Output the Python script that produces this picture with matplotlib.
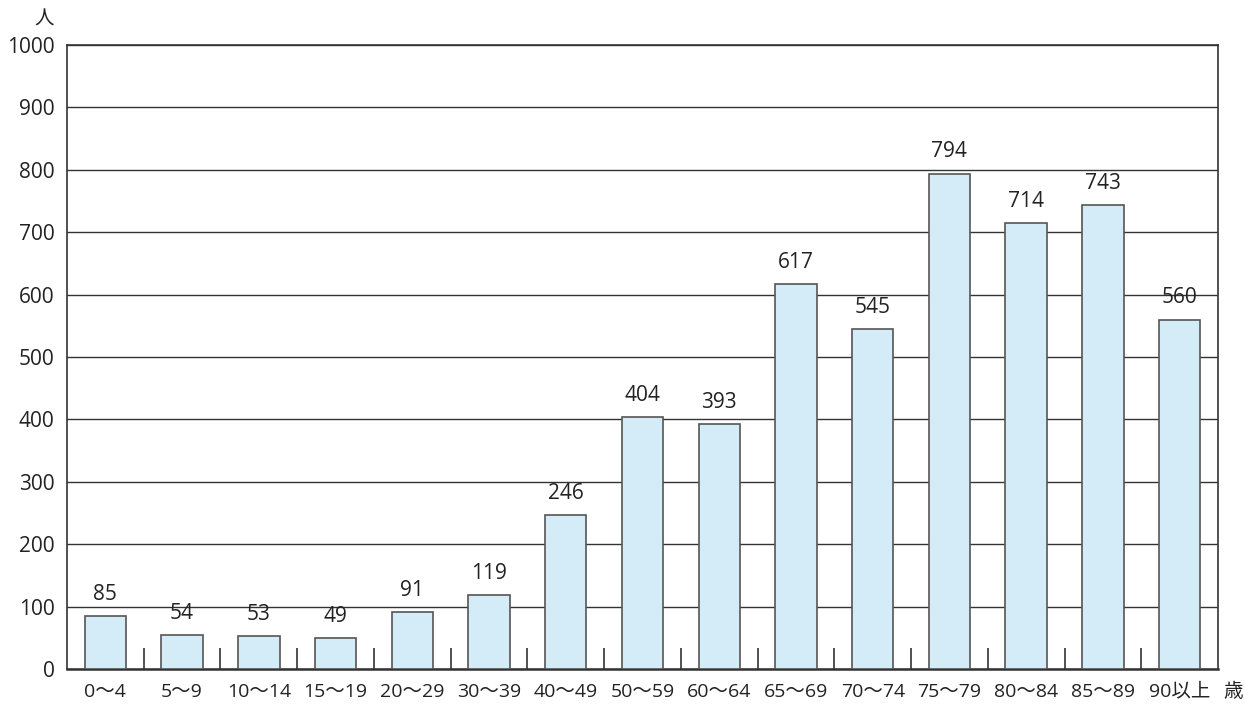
import matplotlib
matplotlib.use("Agg")
import matplotlib.pyplot as plt
import numpy as np

plt.rcParams['font.family'] = ['Open Sans', 'Noto Sans CJK JP', 'DejaVu Sans']

categories = ["0～4", "5～9", "10～14", "15～19", "20～29", "30～39", "40～49",
              "50～59", "60～64", "65～69", "70～74", "75～79", "80～84", "85～89", "90以上"]
values = [85, 54, 53, 49, 91, 119, 246, 404, 393, 617, 545, 794, 714, 743, 560]
yticks = [0, 100, 200, 300, 400, 500, 600, 700, 800, 900, 1000]

fig = plt.figure(figsize=(12.45, 7.04), dpi=100)
ax = fig.add_axes([67/1245, 1 - 669/704, (1218-67)/1245, (669-45)/704])

x = np.arange(len(categories))
ax.set_axisbelow(True)
ax.yaxis.grid(True, color='#333333', linewidth=1.0)
ax.bar(x, values, width=0.54, color='#d4ebf8', edgecolor='#555555', linewidth=1.2, zorder=3)

for xi, v in zip(x, values):
    ax.annotate(str(v), (xi, v), xytext=(0, 8), textcoords='offset points',
                ha='center', va='bottom', fontsize=15, color='#222222')

ax.set_xlim(-0.5, len(categories) - 0.5)
ax.set_ylim(0, 1000)
ax.set_yticks(yticks)
ax.set_yticklabels([str(t) for t in yticks], fontsize=15, color='#222222')
ax.set_xticks(x)
ax.set_xticklabels(categories, fontsize=14, color='#222222')
ax.tick_params(axis='x', which='major', length=0, pad=10)
ax.tick_params(axis='y', which='major', length=0, pad=9)
ax.set_xticks(np.arange(0.5, len(categories) - 0.5, 1.0), minor=True)
ax.tick_params(axis='x', which='minor', direction='in', length=15, width=1.2, color='#333333')

for s in ax.spines.values():
    s.set_color('#333333')
    s.set_linewidth(1.2)
ax.spines['bottom'].set_linewidth(1.8)

fig.text(44/1245, 1 - 20/704, "人", ha='center', va='center', fontsize=14, color='#222222')
fig.text(1233/1245, 1 - 692/704, "歳", ha='center', va='center', fontsize=14, color='#222222')

fig.savefig("out.png", dpi=100)
